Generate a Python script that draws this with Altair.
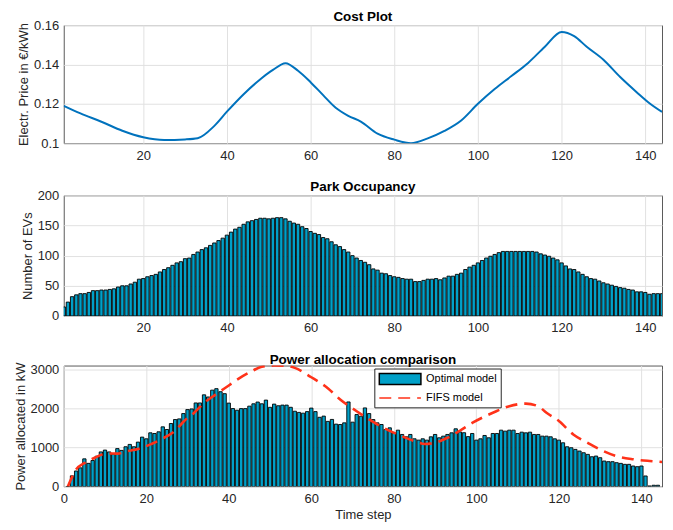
import altair as alt
import pandas as pd

# ---------------- data ----------------
time_steps = list(range(1, 145))

price_t = [1, 5, 10, 15, 20, 25, 30, 33, 37, 40, 44, 48, 51, 54, 57, 60, 63, 66, 69, 72,
           76, 80, 84, 88, 92, 96, 100, 104, 108, 112, 116, 120, 123, 126, 130, 134, 138, 141, 144]
price_v = [0.119, 0.1151, 0.1109, 0.1063, 0.103, 0.1016, 0.1019, 0.1025, 0.1088, 0.116, 0.1249,
           0.1325, 0.1372, 0.1406, 0.1368, 0.131, 0.1244, 0.118, 0.1139, 0.111,
           0.1048, 0.1018, 0.1, 0.1024, 0.1062, 0.1115, 0.120, 0.1275, 0.1341, 0.1408, 0.149,
           0.1565, 0.1544, 0.149, 0.1424, 0.1336, 0.1258, 0.1203, 0.1159]

occupancy = [15, 23, 32, 35, 37, 37, 39, 42, 42, 43, 43, 44, 45, 48, 50, 50, 53, 56, 61, 62,
             65, 67, 69, 73, 77, 80, 84, 88, 90, 95, 96, 102, 106, 110, 113, 117, 121, 125, 129, 134,
             139, 144, 147, 152, 156, 158, 160, 162, 162, 161, 162, 163, 163, 161, 157, 154, 152, 148, 145, 140,
             137, 135, 130, 128, 123, 118, 115, 110, 106, 100, 96, 92, 89, 85, 78, 76, 71, 70, 67, 65,
             64, 62, 61, 61, 57, 57, 59, 61, 61, 62, 60, 63, 66, 66, 69, 71, 77, 81, 84, 88,
             92, 96, 99, 102, 105, 107, 107, 107, 107, 107, 107, 107, 107, 106, 103, 101, 99, 96, 93, 88,
             83, 78, 77, 73, 69, 65, 62, 61, 58, 55, 53, 51, 49, 47, 46, 44, 43, 40, 40, 39,
             36, 37, 37, 37]

power_optimal = [0, 275, 400, 480, 710, 595, 668, 778, 888, 935, 888, 830, 973, 927, 1020, 1080, 1020, 1139, 1267, 1224,
                 1377, 1360, 1403, 1530, 1462, 1615, 1717, 1734, 1870, 1972, 1989, 2142, 2142, 2350, 2295, 2470, 2508, 2430, 2380, 2138,
                 1998, 1955, 1997, 1997, 2060, 2120, 2165, 2120, 2215, 2030, 2112, 2070, 2087, 2087, 2031, 1930, 1900, 1880, 1920, 2010,
                 1920, 1775, 1805, 1670, 1720, 1600, 1590, 1632, 2168, 1650, 1845, 1802, 2015, 1870, 1717, 1632, 1590, 1462, 1505, 1377,
                 1445, 1335, 1275, 1335, 1224, 1190, 1224, 1190, 1275, 1335, 1250, 1292, 1335, 1377, 1480, 1400, 1380, 1280, 1360, 1190,
                 1224, 1309, 1250, 1360, 1360, 1445, 1420, 1445, 1445, 1360, 1394, 1377, 1394, 1335, 1335, 1292, 1292, 1275, 1224, 1190,
                 1122, 1020, 995, 952, 910, 867, 825, 765, 782, 740, 655, 638, 638, 612, 595, 570, 570, 527, 510, 527,
                 272, 17, 34, 34]

fifs_t = [1, 3, 5, 7.5, 10.5, 13, 15.5, 18, 21, 23.5, 27, 29, 31.5, 34, 37, 40, 42, 45.5, 48, 51, 54,
          56, 60, 64, 67, 71, 74, 77.5, 81.5, 85, 87.5, 90.5, 93, 96, 99, 104, 108, 112, 115, 117,
          120, 123.5, 127, 130, 134, 138, 142, 145]
fifs_v = [0, 440, 600, 740, 850, 845, 910, 965, 1080, 1207, 1430, 1660, 1880, 2140, 2370, 2590, 2737, 2950, 3070, 3100, 3090,
          3040, 2800, 2520, 2230, 1930, 1720, 1505, 1310, 1165, 1090, 1140, 1250, 1430, 1630, 1890, 2060, 2125, 2057, 1890,
          1680, 1335, 1120, 950, 780, 700, 655, 630]

series_names = ["Optimal model", "FIFS model"]

# ---------------- style ----------------
FONT = "Liberation Sans"
TXT = "#262626"
BAR_FILL = "#00A0C8"
LINE_BLUE = "#0072BD"
RED = "#FF3219"
W = 601

price_df = pd.DataFrame({"t": price_t, "price": price_v})
occ_df = pd.DataFrame({"t": time_steps, "ev": occupancy})
pow_df = pd.DataFrame({"t": time_steps, "kw": power_optimal, "series": series_names[0]})
fifs_df = pd.DataFrame({"t": fifs_t, "kw": fifs_v, "series": series_names[1]})

x_ticks = [20, 40, 60, 80, 100, 120, 140]


def title(text):
    return alt.TitleParams(text, fontSize=13.5, fontWeight="bold", color="#000000", offset=-4, font=FONT)


# Panel 1: cost
p1 = alt.Chart(price_df, title=title("Cost Plot")).mark_line(
    color=LINE_BLUE, strokeWidth=2, interpolate="monotone", clip=True
).encode(
    x=alt.X("t:Q", scale=alt.Scale(domain=[1, 144], nice=False, zero=False),
            axis=alt.Axis(values=x_ticks, title=None)),
    y=alt.Y("price:Q", scale=alt.Scale(domain=[0.1, 0.16], nice=False, zero=False),
            axis=alt.Axis(values=[0.1, 0.12, 0.14, 0.16], format=".2~f", title="Electr. Price in €/kWh")),
).properties(width=W, height=118.6)

# Panel 2: occupancy
p2 = alt.Chart(occ_df, title=title("Park Occupancy")).transform_calculate(
    x0="datum.t - 0.4", x1="datum.t + 0.4"
).mark_bar(fill=BAR_FILL, stroke="#000000", strokeWidth=0.9, clip=True).encode(
    x=alt.X("x0:Q", scale=alt.Scale(domain=[1, 144], nice=False, zero=False),
            axis=alt.Axis(values=x_ticks, title=None)),
    x2="x1:Q",
    y=alt.Y("ev:Q", scale=alt.Scale(domain=[0, 200], nice=False),
            axis=alt.Axis(values=[0, 50, 100, 150, 200], format="d", title="Number of EVs")),
    y2=alt.datum(0),
).properties(width=W, height=121.2)

# Panel 3: power allocation
leg = dict(title=None, orient="none", legendX=312, legendY=3)
color_dom = series_names

bars = alt.Chart(pow_df).transform_calculate(
    x0="datum.t - 0.4", x1="datum.t + 0.4"
).mark_bar(strokeWidth=0.9, clip=True).encode(
    x=alt.X("x0:Q", scale=alt.Scale(domain=[0, 145], nice=False, zero=False),
            axis=alt.Axis(values=[0, 20, 40, 60, 80, 100, 120, 140], title="Time step")),
    x2="x1:Q",
    y=alt.Y("kw:Q", scale=alt.Scale(domain=[0, 3100], nice=False),
            axis=alt.Axis(values=[0, 1000, 2000, 3000], format="d", title="Power allocated in kW")),
    y2=alt.datum(0),
    fill=alt.Fill("series:N", scale=alt.Scale(domain=color_dom, range=[BAR_FILL, "transparent"]),
                  legend=alt.Legend(**leg)),
    stroke=alt.Stroke("series:N", scale=alt.Scale(domain=color_dom, range=["#000000", RED]),
                      legend=alt.Legend(**leg)),
)

line = alt.Chart(fifs_df).mark_line(strokeWidth=2.6, interpolate="monotone", clip=True).encode(
    x=alt.X("t:Q"),
    y=alt.Y("kw:Q"),
    stroke=alt.Stroke("series:N", scale=alt.Scale(domain=color_dom, range=["#000000", RED]),
                      legend=alt.Legend(**leg)),
    strokeDash=alt.StrokeDash("series:N", scale=alt.Scale(domain=color_dom, range=[[1, 0], [12, 7]]),
                              legend=alt.Legend(**leg)),
)

legend_shapes = alt.Chart(fifs_df).transform_filter("false").mark_point().encode(
    x=alt.X("t:Q"),
    y=alt.Y("kw:Q"),
    shape=alt.Shape("series:N", scale=alt.Scale(domain=color_dom,
                                                range=["M-1,-1H6.6V1H-1Z", "M-1,0H6.6"]),
                    legend=alt.Legend(**leg)),
)

p3 = alt.layer(bars, line, legend_shapes, title=title("Power allocation comparison")).properties(
    width=W, height=121.6
)

chart = alt.vconcat(p1, p2, p3, spacing=16).resolve_scale(
    fill="independent", stroke="independent", strokeDash="independent", shape="independent"
).resolve_legend(
    fill="independent", stroke="independent", strokeDash="independent", shape="independent"
).configure(
    font=FONT,
    padding={"left": 5, "top": 0, "right": 2, "bottom": 0},
).configure_view(
    stroke="#5A5A5A", strokeWidth=1, fill="#FFFFFF"
).configure_axis(
    labelFont=FONT, labelFontSize=13, labelColor=TXT,
    titleFont=FONT, titleFontSize=13, titleFontWeight="normal", titleColor=TXT,
    gridColor="#E1E1E1", gridWidth=1, domain=False, ticks=False,
    labelPadding=5, titlePadding=3, labelFlush=False,
).configure_axisX(labelPadding=6, titlePadding=3).configure_legend(
    labelFont=FONT, labelFontSize=11, labelColor="#000000", symbolSize=121,
    symbolStrokeWidth=1.5, labelOffset=35, padding=4, rowPadding=4,
    strokeColor="#262626", fillColor="#FFFFFF", cornerRadius=0,
)

chart.save("out.html", embed_options={"renderer": "svg", "actions": False})
